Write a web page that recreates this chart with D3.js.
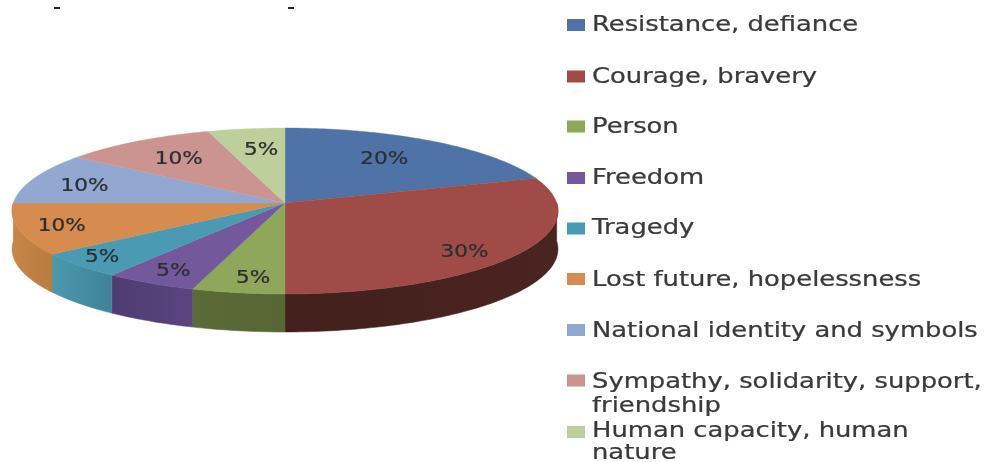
<!DOCTYPE html>
<html><head><meta charset="utf-8">
<script src="https://cdn.jsdelivr.net/npm/d3@7/dist/d3.min.js"></script>
<style>html,body{margin:0;padding:0;background:#fff;overflow:hidden}svg{display:block;filter:blur(.55px)}</style>
</head><body><svg id="c" width="984" height="462"></svg>
<script>
const categories=["Resistance, defiance","Courage, bravery","Person","Freedom","Tragedy","Lost future, hopelessness","National identity and symbols","Sympathy, solidarity, support,|friendship","Human capacity, human|nature"];
const shares=[20,30,5,5,5,10,10,10,5];
const topColors=["#4f73a6","#a04b48","#8ea75a","#73589c","#4b9ab4","#d58c4e","#92a8d1","#cb9491","#bdd09c"];
const sideLeft=["#3a5478","#43201c","#5b6b38","#4f3c72","#4d98ae","#c8864a","#6e7f9e","#99706e","#8f9e76"];
const sideRight=["#3a5478","#4a2420","#566634","#5a4580","#3f8299","#b97b3e","#6e7f9e","#99706e","#8f9e76"];
const labelRadius=[.71,.83,.825,.84,.87,.84,.79,.72,.72];
const labelTurn=[-3,5,-1.5,0,1.8,.7,-.7,1,1.5];
const legendSwatchY=[25,76.5,126.5,178,228.5,279,330,380.5,432];
const legendTextY=[31,83,133,184,234,286,337,388,437];
const legendLineGap=[0,0,0,0,0,0,0,24,22];

const cx=285,cy=203,R=271.7,ryBase=82.2,k=.0964,depth=38;
const project=(a,r=1)=>{const u=r*Math.sin(a),v=-r*Math.cos(a),w=1-k*v;return [cx+R*u/w,cy+ryBase*v/w];};

const svg=d3.select("#c");
const defs=svg.append("defs");
const color=d3.scaleOrdinal().domain(categories).range(topColors);
const arcs=d3.pie().sort(null).value(d=>d)(shares);
const line=d3.line();
const step=Math.PI/180;
const arcPts=(s,e)=>{const p=d3.range(s,e,step).map(a=>project(a));p.push(project(e));return p;};

// side wall: only the front half of the rim
const frontStart=Math.PI/2, frontEnd=3*Math.PI/2;
arcs.forEach((d,i)=>{
  const s=Math.max(d.startAngle,frontStart),e=Math.min(d.endAngle,frontEnd);
  if(e<=s)return;
  const top=arcPts(s,e),bot=top.map(([x,y])=>[x,y+depth]).reverse();
  const g=defs.append("linearGradient").attr("id","g"+i).attr("gradientUnits","userSpaceOnUse")
    .attr("x1",d3.min(top,p=>p[0])).attr("x2",d3.max(top,p=>p[0])).attr("y1",0).attr("y2",0);
  g.append("stop").attr("offset",0).attr("stop-color",sideLeft[i]);
  g.append("stop").attr("offset",1).attr("stop-color",sideRight[i]);
  svg.append("path").attr("d",line(top.concat(bot))+"Z").attr("fill",`url(#g${i})`).attr("stroke",`url(#g${i})`).attr("stroke-width",.5);
});
// top faces
arcs.forEach((d,i)=>{
  svg.append("path").attr("d",line([[cx,cy],...arcPts(d.startAngle,d.endAngle)])+"Z")
    .attr("fill",color(categories[i])).attr("stroke",color(categories[i])).attr("stroke-width",.4);
});
// value labels
arcs.forEach((d,i)=>{
  const [x,y]=project((d.startAngle+d.endAngle)/2+labelTurn[i]*Math.PI/180,labelRadius[i]);
  svg.append("text").attr("transform",`translate(${x},${y+7}) scale(1.2,1)`).attr("text-anchor","middle")
    .attr("font-family","DejaVu Sans").attr("font-size",18).attr("fill","#2b2f33")
    .attr("stroke","#2b2f33").attr("stroke-width",.25)
    .text(d3.format(".0f")(d.data)+"%");
});
// legend
categories.forEach((c,i)=>{
  svg.append("rect").attr("x",567).attr("y",legendSwatchY[i]-6).attr("width",18).attr("height",12).attr("fill",topColors[i]);
  c.split("|").forEach((t,j)=>{
    svg.append("text").attr("transform",`translate(592,${legendTextY[i]+j*legendLineGap[i]}) scale(1.26,1)`)
      .attr("font-family","DejaVu Sans").attr("font-size",20.5).attr("fill","#3a3a3a")
      .attr("stroke","#3a3a3a").attr("stroke-width",.25).text(t);
  });
});
// cropped remnants at the top edge
[57,291].forEach(x=>svg.append("rect").attr("x",x-3).attr("y",7).attr("width",6).attr("height",2).attr("fill","#222"));
</script></body></html>
